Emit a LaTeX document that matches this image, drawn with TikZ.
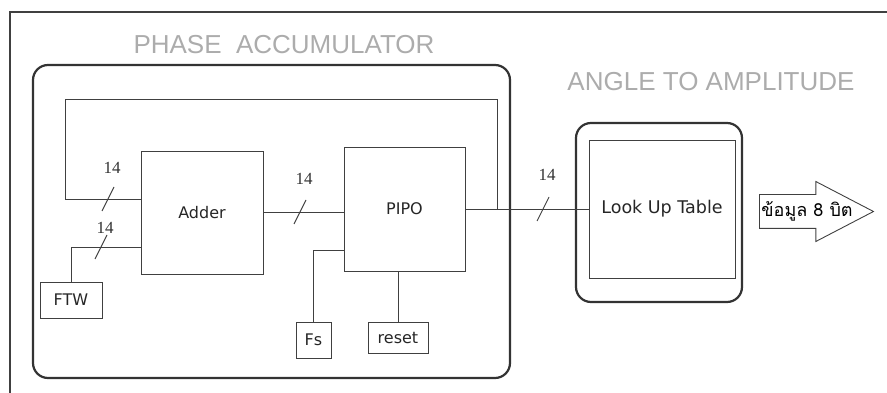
\documentclass[tikz,border=0pt]{standalone}
\usepackage{fontspec}
\setmainfont{DejaVu Sans}
\newfontfamily\titlefont{Liberation Sans}
\newfontfamily\numfont{Liberation Serif}
\newfontfamily\thaifont[Script=Thai]{Loma}
\usetikzlibrary{shapes.arrows}

\begin{document}
\begin{tikzpicture}[x=1pt, y=-1pt,
  blk/.style={draw=black!75, line width=0.9pt, inner sep=0pt, text=black!85, font=\fontsize{16}{18}\selectfont},
  group/.style={draw=black!80, line width=2.2pt, rounded corners=15pt, inner sep=0pt},
  title/.style={text=gray!65, font=\titlefont\fontsize{26}{29}\selectfont},
  wire/.style={draw=black!75, line width=0.9pt},
  num/.style={text=black!80, font=\numfont\fontsize{17}{19}\selectfont}
]
\useasboundingbox (0,0) rectangle (887,393);
% page frame (only top and left edges show)
\draw[black!75, line width=2pt] (10,393) -- (10,12) -- (887,12);

% the two groups
\node[group, minimum width=477pt, minimum height=313pt] (acc) at (271.5,221.5) {};
\node[group, minimum width=166pt, minimum height=179pt] (ata) at (659,212.5) {};
\node[title] (acctitle) at (284,45) {PHASE\ \ ACCUMULATOR};
\node[title] (atatitle) at (711,82) {ANGLE TO AMPLITUDE};

% blocks
\node[blk, minimum width=122pt, minimum height=123pt] (adder) at (202,212.5) {Adder};
\node[blk, minimum width=121pt, minimum height=124pt] (pipo) at (404.5,209) {PIPO};
\node[blk, minimum width=62pt, minimum height=36pt] (ftw) at (71,300) {FTW};
\node[blk, minimum width=35pt, minimum height=36pt] (fs) at (313.5,340) {Fs};
\node[blk, minimum width=60pt, minimum height=31pt] (reset) at (398,337.5) {reset};
\node[blk, minimum width=146pt, minimum height=138pt, font=\fontsize{17.5}{19}\selectfont] (lut) at (662,209) {Look Up Table};
\node[draw=black!75, line width=0.9pt, single arrow, single arrow head extend=13pt,
  single arrow tip angle=55, minimum height=114pt, inner xsep=0pt, inner ysep=16.5pt,
  anchor=west] (out) at (759,211.5) {};
\node[font=\thaifont\fontsize{18}{20}\selectfont, inner sep=0pt] (outtext) at (807,211) {ข้อมูล 8 บิต};

% wires
\coordinate (tap) at (497,209);
\coordinate (loop) at (65,99);
\draw[wire] (adder.east) -- (adder.east -| pipo.west);
\draw[wire] (pipo.east) -- (pipo.east -| lut.west);
\draw[wire] (tap) -- (tap |- loop) -- (loop) |- ([yshift=13.5pt]adder.west);
\draw[wire] (ftw.north) |- ([yshift=-34.5pt]adder.west);
\draw[wire] (fs.north) |- ([yshift=-41pt]pipo.west);
\draw[wire] (reset.north) -- (reset.north |- pipo.south);

% bus width marks
\foreach \bx/\by/\ly in {108/199/31, 101/247/19, 300/212/33, 543/209/34} {
  \draw[wire] (\bx-6,\by+12) -- (\bx+6,\by-12);
  \node[num] at (\bx+4,\by-\ly) {14};
}
\end{tikzpicture}
\end{document}
